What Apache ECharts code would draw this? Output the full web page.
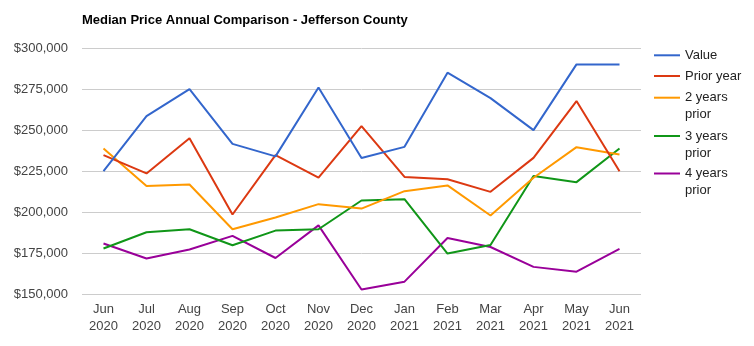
<!DOCTYPE html>
<html>
<head>
<meta charset="utf-8">
<script src="https://cdn.jsdelivr.net/npm/echarts@6/dist/echarts.min.js"></script>
<style>
  html, body { margin: 0; padding: 0; background: #fff; }
  #chart { width: 754px; height: 346px; }
</style>
</head>
<body>
<div id="chart"></div>
<script>
// Monthly median sale price, Jefferson County, compared with earlier years
const months = ['Jun\n2020', 'Jul\n2020', 'Aug\n2020', 'Sep\n2020', 'Oct\n2020', 'Nov\n2020', 'Dec\n2020',
                'Jan\n2021', 'Feb\n2021', 'Mar\n2021', 'Apr\n2021', 'May\n2021', 'Jun\n2021'];

const seriesNames = ['Value', 'Prior year', '2 years prior', '3 years prior', '4 years prior'];
const seriesColors = ['#3366cc', '#dc3912', '#ff9900', '#109618', '#990099'];

const valueNow   = [225000, 258500, 275000, 241600, 234000, 276000, 233000, 239800, 285000, 269500, 250000, 290000, 290000];
const priorYear  = [234800, 223600, 245000, 198600, 234800, 221000, 252400, 221500, 220100, 212400, 233100, 267700, 225000];
const twoYears   = [238800, 216000, 216900, 189600, 196800, 204900, 202200, 212800, 216300, 198000, 221000, 239600, 235200];
const threeYears = [177900, 187800, 189600, 179900, 188800, 189600, 207100, 207900, 174800, 180000, 222000, 218300, 238800];
const fourYears  = [180900, 171800, 177300, 185600, 172100, 192000, 152900, 157700, 184300, 178800, 166700, 163800, 177600];

const seriesData = [valueNow, priorYear, twoYears, threeYears, fourYears];

const FONT = '"Liberation Sans", Arial, sans-serif';
const LH = 17;

// Legend rows: vertical centre of each entry's first text line
const legendRows = [54.3, 75, 96.7, 135, 172.5];

// Long names wrap onto a second line; a leading blank line keeps the
// swatch level with the first line of text.
const legends = seriesNames.map((name, i) => {
  const multi = name.indexOf(' prior') > 0 && name !== 'Prior year';
  return {
    data: [name],
    orient: 'vertical',
    left: 654,
    top: multi ? legendRows[i] - 1.5 * LH + 1 : legendRows[i] - LH / 2 + 1,
    padding: 0,
    icon: 'rect',
    itemWidth: 26,
    itemHeight: 2,
    itemStyle: { borderWidth: 0 },
    selectedMode: false,
    formatter: n => multi ? '\n' + n.replace(' prior', '\nprior') : n,
    textStyle: {
      fontFamily: FONT,
      fontSize: 13,
      color: '#222',
      lineHeight: LH
    }
  };
});

const chart = echarts.init(document.getElementById('chart'), null, { renderer: 'canvas' });
chart.setOption({
  animation: false,
  color: seriesColors,
  title: {
    text: 'Median Price Annual Comparison - Jefferson County',
    left: 82,
    top: 12,
    padding: 0,
    textStyle: { fontFamily: FONT, fontSize: 13, fontWeight: 'bold', color: '#000', lineHeight: 16 }
  },
  legend: legends,
  grid: { left: 82, right: 113, top: 48, bottom: 51.7, containLabel: false },
  xAxis: {
    type: 'category',
    data: months,
    boundaryGap: true,
    axisLine: { show: false },
    axisTick: { show: false },
    axisLabel: {
      interval: 0,
      margin: 7,
      fontFamily: FONT,
      fontSize: 13,
      color: '#444',
      lineHeight: LH
    },
    splitLine: { show: false }
  },
  yAxis: {
    type: 'value',
    min: 150000,
    max: 300000,
    interval: 25000,
    axisLine: { show: false },
    axisTick: { show: false },
    axisLabel: {
      margin: 14,
      fontFamily: FONT,
      fontSize: 13,
      color: '#444',
      formatter: v => '$' + v.toLocaleString('en-US')
    },
    splitLine: { lineStyle: { color: '#cccccc', width: 1 } }
  },
  series: seriesNames.map((name, i) => ({
    name: name,
    type: 'line',
    data: seriesData[i],
    showSymbol: false,
    symbol: 'none',
    lineStyle: { width: 2, color: seriesColors[i] },
    itemStyle: { color: seriesColors[i] },
    z: 10 - i
  }))
});
</script>
</body>
</html>
